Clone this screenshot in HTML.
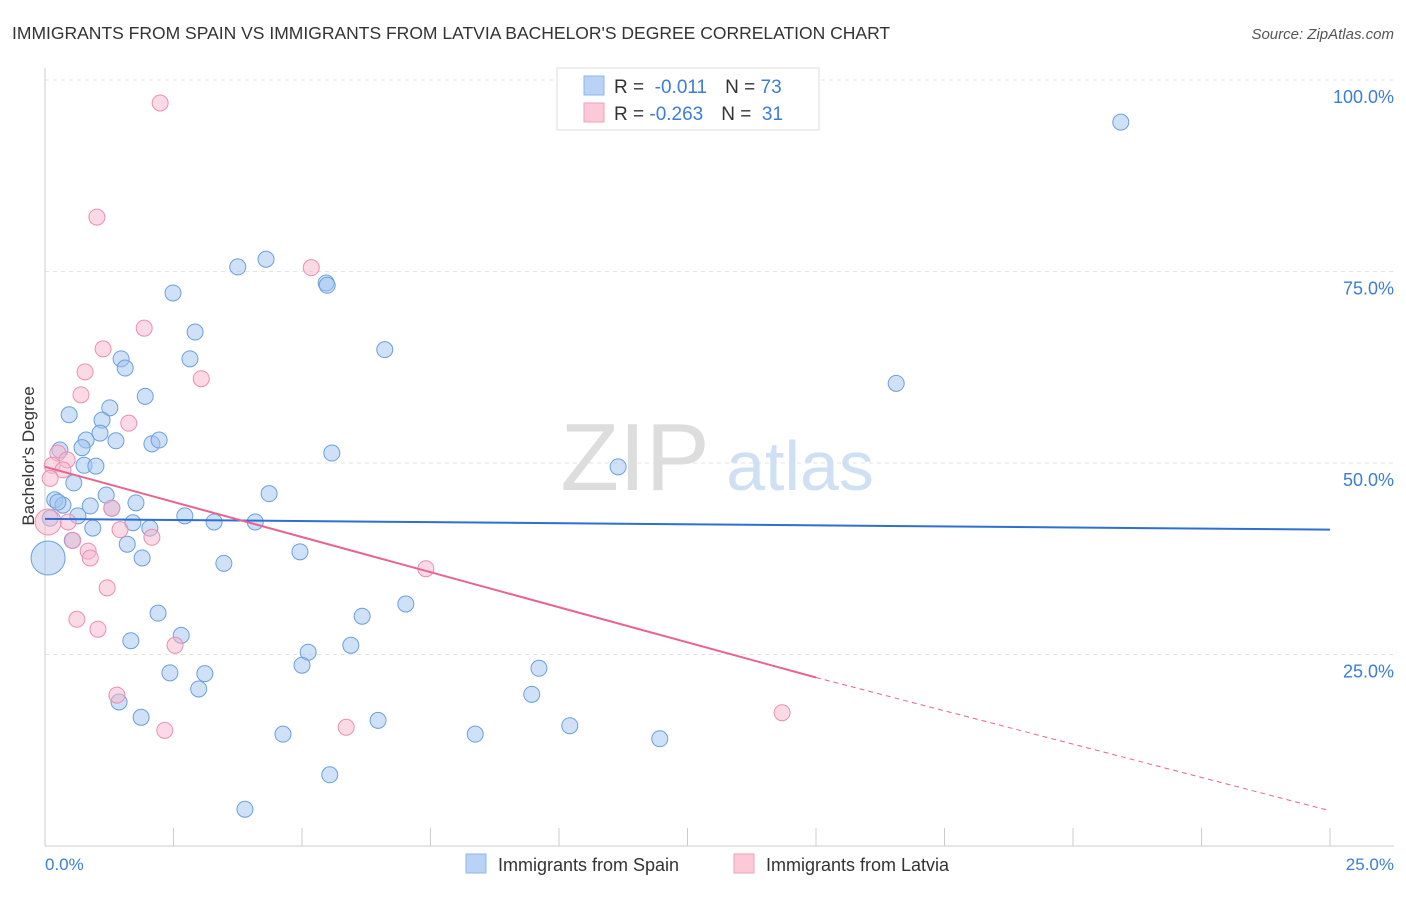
<!DOCTYPE html>
<html><head><meta charset="utf-8"><style>
body{margin:0;background:#fff;font-family:"Liberation Sans",sans-serif}
svg text{font-family:"Liberation Sans",sans-serif}
</style></head><body>
<svg id="c" width="1406" height="892">
<text x="12" y="39" font-size="17.5" fill="#333">IMMIGRANTS FROM SPAIN VS IMMIGRANTS FROM LATVIA BACHELOR'S DEGREE CORRELATION CHART</text>
<text x="1394" y="39" font-size="15" fill="#555" font-style="italic" text-anchor="end">Source: ZipAtlas.com</text>
<g id="grid"></g>
<text x="635" y="490" font-size="96" fill="#ddd" font-family="Liberation Serif" text-anchor="middle">ZIP</text>
<text x="800" y="490" font-size="70" fill="#cfe0f5" text-anchor="middle">atlas</text>
<g id="pts"></g><g id="lines"></g>
<text x="34" y="456" font-size="17" fill="#333" text-anchor="middle" transform="rotate(-90 34 456)">Bachelor's Degree</text>
<text x="45" y="870" font-size="17" fill="#3b7dd8">0.0%</text>
<text x="1394" y="870" font-size="17" fill="#3b7dd8" text-anchor="end">25.0%</text>
<g>
<rect x="557" y="68" width="262" height="62" fill="#fff" stroke="#ddd"/>
<rect x="584" y="76" width="20" height="19" fill="#b8d3f5" stroke="#8fb5e8"/>
<rect x="584" y="103" width="20" height="19" fill="#fbc9d8" stroke="#f0a0ba"/>
<text x="614" y="93" font-size="19" fill="#333">R = <tspan fill="#3b7dd8">&#160;-0.011</tspan><tspan dx="18">N = </tspan><tspan fill="#3b7dd8">73</tspan></text>
<text x="614" y="120" font-size="19" fill="#333">R = <tspan fill="#3b7dd8">-0.263</tspan><tspan dx="18">N = </tspan><tspan fill="#3b7dd8">&#160;31</tspan></text>
</g>
<g>
<rect x="466" y="854" width="20" height="19" fill="#b8d3f5" stroke="#8fb5e8"/>
<text x="498" y="871" font-size="18" fill="#333">Immigrants from Spain</text>
<rect x="734" y="854" width="20" height="19" fill="#fbc9d8" stroke="#f0a0ba"/>
<text x="766" y="871" font-size="18" fill="#333">Immigrants from Latvia</text>
</g>
</svg>
<script>
const yTicks=[25,50,75,100];
const yTickLabels=["25.0%","50.0%","75.0%","100.0%"];
const spainX=[20.93,16.56,11.15,4.30,3.75,5.47,5.49,2.49,2.92,6.61,1.48,1.56,2.82,1.95,0.47,1.26,1.11,0.29,0.80,1.07,1.38,2.08,2.22,5.58,0.72,0.76,0.99,0.56,0.19,0.35,0.88,1.19,1.77,1.30,4.36,0.64,2.72,3.29,4.09,1.71,2.04,0.93,0.53,1.60,1.89,4.96,3.48,7.02,6.17,2.20,2.65,1.67,5.95,5.12,5.0,9.61,2.43,3.11,2.99,9.47,1.44,1.87,6.48,10.21,4.63,8.37,11.96,5.54,3.89,0.10,0.25,0.06];
const spainY=[94.5,60.4,49.5,76.6,75.6,73.5,73.2,72.2,67.1,64.8,63.6,62.4,63.6,58.7,56.3,57.2,55.6,51.7,53.0,53.9,52.9,52.5,53.0,51.3,52.0,49.7,49.6,47.4,45.2,44.5,44.4,45.8,44.8,44.1,46.0,43.1,43.1,42.3,42.3,42.2,41.5,41.5,39.9,39.4,37.6,38.4,36.9,31.6,30.0,30.4,27.5,26.8,26.2,25.3,23.6,23.2,22.6,22.5,20.5,19.8,18.8,16.8,16.4,15.7,14.6,14.6,14.0,9.3,4.8,42.8,44.9,37.6];
const latviaX=[2.24,1.01,5.18,1.93,1.13,3.04,0.78,0.70,1.63,0.25,0.43,0.14,0.35,0.10,1.30,0.45,0.06,1.46,2.08,0.54,0.84,0.88,7.41,1.21,0.62,1.03,2.53,1.40,14.34,5.86,2.33];
const latviaY=[97.0,82.1,75.5,67.6,64.9,61.0,61.9,58.9,55.2,51.3,50.4,49.7,49.1,48.0,44.1,42.3,42.3,41.3,40.3,39.9,38.5,37.6,36.2,33.7,29.6,28.3,26.2,19.7,17.4,15.5,15.1];
const spainLine=[42.7,41.3];
const latviaLine=[49.5,22.0,4.6];
const X=v=>45+v*51.4, Y=v=>846-v*7.66;
const NS="http://www.w3.org/2000/svg";
function mk(t,a,p){const e=document.createElementNS(NS,t);for(const k in a)e.setAttribute(k,a[k]);p.appendChild(e);return e;}
const g=document.getElementById('grid');
yTicks.forEach((t,i)=>{
 const l=mk('line',{x1:45,x2:1394,y1:Y(t),y2:Y(t),stroke:'#e3e3e3','stroke-dasharray':'4,4'},g);
 
 
 const tx=mk('text',{x:1394,y:Y(t)+23,'font-size':18,fill:'#3b7dd8','text-anchor':'end'},g);
 tx.textContent=yTickLabels[i];
 
 
});
const ax=mk('line',{x1:45,x2:1394,y1:846,y2:846,stroke:'#ccc'},g);


const ay=mk('line',{x1:45,x2:45,y1:68,y2:846,stroke:'#ccc'},g);


for(let i=0;i<=10;i++){
 const t=mk('line',{x1:X(i*2.5),x2:X(i*2.5),y1:828,y2:846,stroke:'#ccc'},g);
 
 
}
const p=document.getElementById('pts');
spainX.forEach((x,i)=>{
 const big=i==spainX.length-1;
 const c=mk('circle',{cx:X(x),cy:Y(spainY[i]),r:big?17:8,fill:'rgba(160,196,240,0.5)',stroke:'#6b9fe0','stroke-width':1},p);
 
 
});
latviaX.forEach((x,i)=>{
 const big=i==16;
 const c=mk('circle',{cx:X(x),cy:Y(latviaY[i]),r:big?13:8,fill:'rgba(248,182,204,0.5)',stroke:'#eb8fae','stroke-width':1},p);
 
 
});
const L=document.getElementById('lines');
const s=mk('line',{x1:X(0),y1:Y(spainLine[0]),x2:X(25),y2:Y(spainLine[1]),stroke:'#2e6fd1','stroke-width':2},L);


const l1=mk('line',{x1:X(0),y1:Y(latviaLine[0]),x2:X(15),y2:Y(latviaLine[1]),stroke:'#e8648e','stroke-width':2},L);


const l2=mk('line',{x1:X(15),y1:Y(latviaLine[1]),x2:X(25),y2:Y(latviaLine[2]),stroke:'#e8648e','stroke-width':1,'stroke-dasharray':'5,4'},L);


</script>
</body></html>
